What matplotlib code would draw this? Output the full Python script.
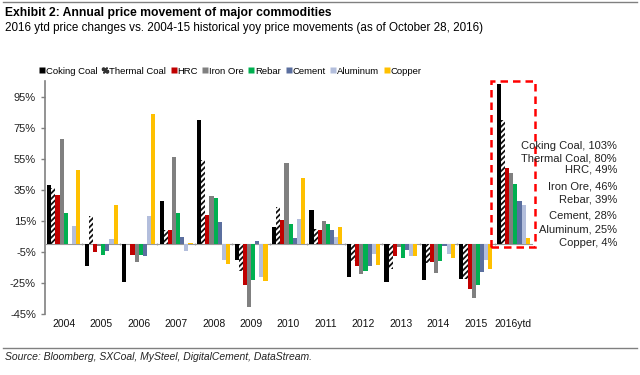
import numpy as np
import matplotlib.pyplot as plt
from matplotlib.patches import Rectangle
from matplotlib.lines import Line2D

plt.rcParams['font.family'] = ['Liberation Sans', 'DejaVu Sans']
plt.rcParams['hatch.linewidth'] = 1.3

years = ['2004', '2005', '2006', '2007', '2008', '2009', '2010', '2011',
         '2012', '2013', '2014', '2015', '2016ytd']
series = ['Coking Coal', 'Thermal Coal', 'HRC', 'Iron Ore', 'Rebar',
          'Cement', 'Aluminum', 'Copper']

coking_coal = [38, -14, -24, 28, 80, -10, 11, 22, -21, -24, -23, -22, 103]
thermal_coal = [36, 18, 0, 9.5, 54, -17, 24, 9.7, -11, -16, -12, -22, 80]
hrc = [32, -5, -7, 9.5, 19, -26, 15.5, 9, -14, -7.5, -11.5, -29, 49]
iron_ore = [68, -1, -11.5, 56, 31, -40.5, 52, 15, -19, -2, -18.5, -34.5, 46]
rebar = [20, -7, -7, 20, 29.5, -23, 13, 13, -17, -9, -11, -26, 39]
cement = [0, -4.3, -7.5, 5, 14.5, 2.3, 4, 9.5, -14, -3.7, -1, -17.5, 28]
aluminum = [11.5, 3.3, 18, -4, -10, -21, 16, 4.4, -6.5, -7.5, -6, -10, 25]
copper = [48, 25, 83.5, 1, -12.5, -23.5, 42.5, 11, -13, -7.5, -8.5, -16, 4]

values = [coking_coal, thermal_coal, hrc, iron_ore, rebar, cement, aluminum, copper]
colors = ['#000000', 'white', '#C00000', '#808080', '#00B050', '#5B6F9F',
          '#B3BEDC', '#FFC000']

fig = plt.figure(figsize=(6.4, 3.75), dpi=100)
ax = fig.add_axes([45 / 640, 60.7 / 375, 487 / 640, 233.3 / 375])

x = np.arange(len(years))
w = 0.11
for i, (name, vals, col) in enumerate(zip(series, values, colors)):
    if name == 'Thermal Coal':
        ax.bar(x + (i - 3.5) * w, vals, w, color='white', edgecolor='#111111',
               hatch='//////', linewidth=0, zorder=3)
    else:
        ax.bar(x + (i - 3.5) * w, vals, w, color=col, linewidth=0, zorder=3)

ax.set_xlim(-0.5, len(years) - 0.5)
ax.set_ylim(-45, 105)
ax.set_yticks(np.arange(-45, 100, 20))
ax.set_yticklabels([f'{v}%' for v in range(-45, 100, 20)], fontsize=8, color='#222222')
ax.tick_params(axis='y', length=3, color='#808080', width=1)

for s in ['top', 'right']:
    ax.spines[s].set_visible(False)
ax.spines['left'].set_color('#808080')
ax.spines['left'].set_linewidth(1.2)
ax.spines['bottom'].set_position(('data', 0))
ax.spines['bottom'].set_color('#999999')
ax.spines['bottom'].set_linewidth(0.8)
ax.set_xticks(np.arange(0.5, len(years) - 1, 1))
ax.set_xticklabels([])
ax.tick_params(axis='x', length=2, color='#aaaaaa', direction='inout')

for xi, yr in zip(x, years):
    ax.text(xi, -51, yr, ha='center', va='center', fontsize=7.5, color='#111111')

# red dashed box round 2016ytd
ax.add_patch(Rectangle((11.41, -1.8), 1.18, 107, fill=False, edgecolor='#FF0000',
                       linestyle=(0, (3, 2)), linewidth=1.8, clip_on=False, zorder=4))

# labels for the 2016ytd values
label_y = [146, 158.3, 170, 186.7, 200, 215, 229, 243.3]
for name, vals, py in zip(series, values, label_y):
    fig.text(617 / 640, 1 - py / 375, f'{name}, {vals[-1]:.0f}%', ha='right',
             va='center', fontsize=8, color='#222222')

leg_handles = [Line2D([], [], marker='s', linestyle='none', markersize=4,
                      markerfacecolor=c, markeredgecolor='none') for c in colors]
leg_handles[1] = Line2D([], [], marker=r'$\mathbf{\%}$', linestyle='none',
                        markersize=4.5, color='#333333')
fig.legend(leg_handles, series, loc='center left', bbox_to_anchor=(40 / 640, 1 - 71 / 375),
           ncol=8, frameon=False, fontsize=6.8, handlelength=0.5, handletextpad=0.15,
           columnspacing=0.55, borderaxespad=0, borderpad=0)

fig.text(5 / 640, 1 - 13 / 375, 'Exhibit 2: Annual price movement of major commodities',
         fontsize=8.7, fontweight='bold', va='center', ha='left')
fig.text(5 / 640, 1 - 28 / 375,
         '2016 ytd price changes vs. 2004-15 historical yoy price movements (as of October 28, 2016)',
         fontsize=8.4, va='center', ha='left')
fig.text(5 / 640, 1 - 357 / 375, 'Source: Bloomberg, SXCoal, MySteel, DigitalCement, DataStream.',
         fontsize=7.5, style='italic', va='center', ha='left', color='#222222')

fig.add_artist(Line2D([3 / 640, 637 / 640], [1 - 2 / 375, 1 - 2 / 375], color='#808080', lw=1))
fig.add_artist(Line2D([3 / 640, 637 / 640], [1 - 348 / 375, 1 - 348 / 375], color='#808080', lw=1))

fig.savefig('out.png', dpi=100)
